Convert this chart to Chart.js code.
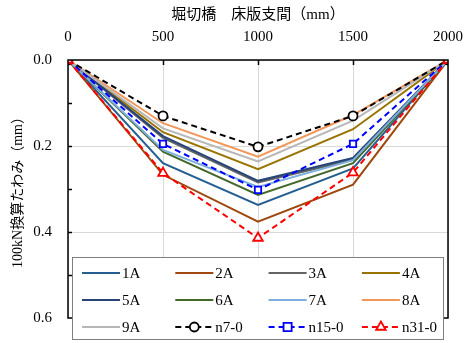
<!DOCTYPE html>
<html><head><meta charset="utf-8">
<script src="https://cdn.jsdelivr.net/npm/chart.js@4"></script>
<style>html,body{margin:0;padding:0;background:#fff}#wrap{width:464px;height:343px}</style>
</head><body><div id="wrap"><canvas id="c" width="464" height="343"></canvas></div>
<script>
const xValues = [0, 500, 1000, 1500, 2000];
const yTicks = [0.0, 0.2, 0.4, 0.6];
const s1A = [0, 0.240, 0.337, 0.252, 0];
const s2A = [0, 0.267, 0.376, 0.290, 0];
const s3A = [0, 0.181, 0.285, 0.232, 0];
const s4A = [0, 0.168, 0.254, 0.161, 0];
const s5A = [0, 0.177, 0.281, 0.228, 0];
const s6A = [0, 0.213, 0.314, 0.240, 0];
const s7A = [0, 0.209, 0.295, 0.233, 0];
const s8A = [0, 0.147, 0.225, 0.128, 0];
const s9A = [0, 0.159, 0.236, 0.141, 0];
const n7 = [0, 0.130, 0.202, 0.130, 0];
const n15 = [0, 0.195, 0.302, 0.195, 0];
const n31 = [0, 0.263, 0.414, 0.262, 0];
const seriesLabels = ['1A','2A','3A','4A','5A','6A','7A','8A','9A','n7-0','n15-0','n31-0'];
const seriesData = [s1A,s2A,s3A,s4A,s5A,s6A,s7A,s8A,s9A,n7,n15,n31];
const colors = ['#255E91','#9E480E','#636363','#997300','#264478','#43682B','#7CAFDD','#F1975A','#B7B7B7','#000000','#0000FF','#FF0000'];
const markers = [false,false,false,false,false,false,false,false,false,'circle','rect','triangle'];

const FONT = '"Liberation Serif", "Noto Sans CJK JP", serif';
const datasets = seriesData.map((arr, i) => {
  const m = markers[i];
  return {
    label: seriesLabels[i],
    data: arr.map((v, j) => ({x: xValues[j], y: v})),
    borderColor: colors[i],
    backgroundColor: '#ffffff',
    borderWidth: 2,
    borderDash: m ? [6, 4] : [],
    pointStyle: m || 'circle',
    pointRadius: m ? (m === 'triangle' ? 5.5 : 4.5) : 0,
    pointBorderWidth: 1.8,
    pointBorderColor: colors[i],
    pointBackgroundColor: '#ffffff',
    tension: 0,
    order: seriesData.length - 1 - i
  };
});

const framePlugin = {
  id: 'frame',
  afterDraw(chart) {
    const ctx = chart.ctx, a = chart.chartArea;
    const xs = chart.scales.x, ys = chart.scales.y;
    ctx.save();
    ctx.strokeStyle = '#000';
    ctx.lineWidth = 1.5;
    [0.1,0.2,0.3,0.4,0.5].forEach(v => {
      const py = Math.round(ys.getPixelForValue(v)) + 0.5;
      ctx.beginPath(); ctx.moveTo(a.left, py); ctx.lineTo(a.left + 4, py); ctx.stroke();
    });
    [500,1000,1500].forEach(v => {
      const px = Math.round(xs.getPixelForValue(v)) + 0.5;
      ctx.beginPath(); ctx.moveTo(px, a.top); ctx.lineTo(px, a.top + 5); ctx.stroke();
    });
    ctx.strokeRect(a.left, a.top, a.right - a.left, a.bottom - a.top);
    const lx = 72, ly = 257, lw = 371, lh = 82;
    ctx.fillStyle = '#fff';
    ctx.fillRect(lx, ly, lw, lh);
    ctx.lineWidth = 1;
    ctx.strokeStyle = '#7f7f7f';
    ctx.strokeRect(lx + 0.5, ly + 0.5, lw, lh);
    ctx.font = '15px ' + FONT;
    ctx.textBaseline = 'middle';
    ctx.textAlign = 'left';
    chart.data.datasets.forEach((ds, i) => {
      const col = i % 4, row = Math.floor(i / 4);
      const x0 = 82 + col * 93.3, y0 = 273 + row * 27;
      ctx.strokeStyle = ds.borderColor;
      ctx.lineWidth = 2;
      ctx.setLineDash(ds.borderDash);
      ctx.beginPath(); ctx.moveTo(x0, y0); ctx.lineTo(x0 + 38, y0); ctx.stroke();
      ctx.setLineDash([]);
      if (ds.pointRadius > 0) {
        const cx = x0 + 19, r = ds.pointRadius;
        ctx.fillStyle = '#fff';
        ctx.lineWidth = 1.8;
        ctx.beginPath();
        if (ds.pointStyle === 'circle') ctx.arc(cx, y0, r, 0, Math.PI * 2);
        else if (ds.pointStyle === 'rect') ctx.rect(cx - r * 0.9, y0 - r * 0.9, r * 1.8, r * 1.8);
        else { ctx.moveTo(cx, y0 - r); ctx.lineTo(cx + r * 0.87, y0 + r * 0.5); ctx.lineTo(cx - r * 0.87, y0 + r * 0.5); ctx.closePath(); }
        ctx.fill(); ctx.stroke();
      }
      ctx.fillStyle = '#000';
      ctx.fillText(ds.label, x0 + 40, y0 + 1);
    });
    ctx.restore();
  }
};

new Chart(document.getElementById('c'), {
  type: 'line',
  data: { datasets },
  options: {
    responsive: false,
    animation: false,
    layout: { padding: { left: 0, right: 16, top: 0, bottom: 25 } },
    plugins: { legend: { display: false }, tooltip: { enabled: false } },
    scales: {
      x: {
        type: 'linear', position: 'top', min: 0, max: 2000,
        afterBuildTicks: s => { s.ticks = xValues.map(v => ({value: v})); },
        afterFit: s => { s.height = 60; s.paddingRight = 0; s.paddingLeft = 0; },
        grid: { color: '#d9d9d9', lineWidth: 1, drawTicks: false },
        border: { display: false },
        ticks: { color: '#000', font: { family: FONT, size: 15 }, padding: 14, maxRotation: 0, callback: v => String(v) },
        title: { display: true, text: '堀切橋　床版支間（mm）', color: '#000', font: { family: FONT, size: 15 }, padding: { top: 6, bottom: 2 } }
      },
      y: {
        type: 'linear', reverse: true, min: 0, max: 0.6,
        afterBuildTicks: s => { s.ticks = yTicks.map(v => ({value: v})); },
        afterFit: s => { s.width = 68; },
        grid: { color: '#d9d9d9', lineWidth: 1, drawTicks: false },
        border: { display: false },
        ticks: { color: '#000', font: { family: FONT, size: 15 }, padding: 16, callback: v => Number(v).toFixed(1) },
        title: { display: true, text: '100kN換算たわみ（mm）', color: '#000', font: { family: FONT, size: 14 }, padding: { top: 10, bottom: 0 } }
      }
    }
  },
  plugins: [framePlugin]
});
</script></body></html>
